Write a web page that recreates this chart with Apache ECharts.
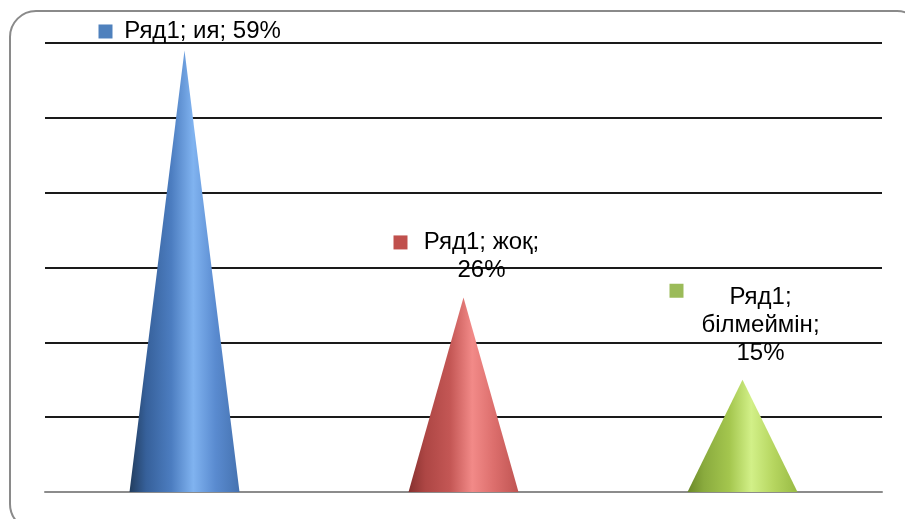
<!DOCTYPE html>
<html>
<head>
<meta charset="utf-8">
<script src="https://cdn.jsdelivr.net/npm/echarts@6/dist/echarts.min.js"></script>
<style>
html,body{margin:0;padding:0;background:#fff;}
#chart{width:905px;height:519px;}
</style>
</head>
<body>
<div id="chart"></div>
<script>
// ---- data ----
const seriesName = 'Ряд1';
const categories = ['ия', 'жоқ', 'білмеймін'];
const values = [59, 26, 15];
const yTicks = [0, 10, 20, 30, 40, 50, 60];

// ---- styles ----
const keyColors = ['#4f81bd', '#c0504d', '#9bbb59'];
const keyVAlign = ['middle', 'middle', 'top'];
const gradOffsets = [0, 0.15, 0.38, 0.58, 0.78, 1];
const gradients = [
  ['#223d5e', '#36609a', '#4c7dc0', '#80b3f0', '#5a8bd0', '#4572b0'],
  ['#86302f', '#ad4644', '#c45755', '#f28a88', '#dc6e6c', '#bf5452'],
  ['#6a8828', '#8aab3e', '#a4c64e', '#d2f088', '#b6d660', '#98ba44']
];
// how the label text is split into lines (layout)
const lineSplits = [
  [[0, 1, 2]],
  [[0, 1], [2]],
  [[0], [1], [2]]
];
const labelWidths = [208, 176, 182];
const labelDistances = [5, 13, 12];

const chart = echarts.init(document.getElementById('chart'));

function gradient(stops) {
  return new echarts.graphic.LinearGradient(0, 0, 1, 0,
    stops.map((c, i) => ({ offset: gradOffsets[i], color: c })));
}

const data = values.map((v, i) => {
  const parts = [seriesName + ';', categories[i] + ';', v + '%'];
  const lines = lineSplits[i].map(idx => idx.map(k => parts[k]).join(' '));
  const text = lines.map((l, li) => li === 0
    ? '{sq' + i + '|}{g|}{t|' + l + '}{rp|}'
    : '{t|' + l + '}').join('\n');
  return {
    value: v,
    itemStyle: { color: gradient(gradients[i]) },
    label: {
      show: true,
      position: 'top',
      distance: labelDistances[i],
      offset: [18, 0],
      width: labelWidths[i],
      align: 'center',
      formatter: text
    }
  };
});

const rich = {
  g: { width: 13, align: 'left', lineHeight: 28 },
  rp: { width: 27, align: 'right', lineHeight: 28 },
  t: { align: 'center', fontSize: 24, lineHeight: 28, color: '#000',
       fontFamily: 'Liberation Sans' }
};
keyColors.forEach((c, i) => {
  rich['sq' + i] = { width: 14, height: 14, backgroundColor: c, align: 'left',
                     verticalAlign: keyVAlign[i] };
});

chart.setOption({
  animation: false,
  backgroundColor: '#fff',
  graphic: [{
    type: 'rect',
    shape: { x: 10, y: 11, width: 913, height: 519, r: 26 },
    style: { fill: 'none', stroke: '#8a8a8a', lineWidth: 2 },
    silent: true,
    z: -10
  }],
  grid: { left: 45, right: 23, top: 43, bottom: 27 },
  xAxis: {
    type: 'category',
    data: categories,
    axisLine: { show: true, lineStyle: { color: '#8c8c8c', width: 2 } },
    axisTick: { show: false },
    axisLabel: { show: false },
    splitLine: { show: false }
  },
  yAxis: {
    type: 'value',
    min: yTicks[0],
    max: yTicks[yTicks.length - 1],
    interval: yTicks[1] - yTicks[0],
    axisLine: { show: false },
    axisTick: { show: false },
    axisLabel: { show: false },
    splitLine: { show: true, showMinLine: false, lineStyle: { color: '#1a1a1a', width: 2 } }
  },
  series: [{
    name: seriesName,
    type: 'pictorialBar',
    symbol: 'triangle',
    symbolSize: [110, '100%'],
    symbolPosition: 'start',
    data: data,
    label: {
      show: true,
      color: '#000',
      fontFamily: 'Liberation Sans',
      fontSize: 24,
      rich: rich
    },
    z: 5
  }]
});
</script>
</body>
</html>
